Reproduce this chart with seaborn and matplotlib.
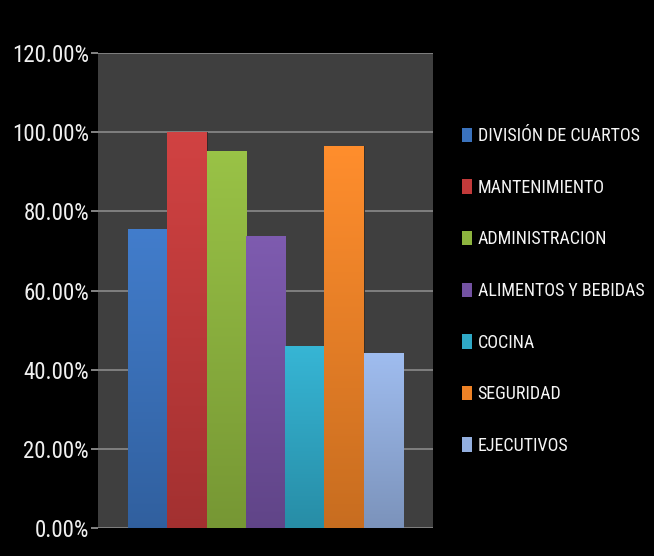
import matplotlib
matplotlib.use("Agg")
import matplotlib.pyplot as plt
import seaborn as sns
import pandas as pd
import numpy as np
from matplotlib.ticker import FuncFormatter, MultipleLocator
from matplotlib.patches import Patch
from matplotlib import font_manager

categories = ["DIVISIÓN DE CUARTOS", "MANTENIMIENTO", "ADMINISTRACION",
              "ALIMENTOS Y BEBIDAS", "COCINA", "SEGURIDAD", "EJECUTIVOS"]
values = [75.5, 100.0, 95.2, 73.7, 46.0, 96.5, 44.3]
colors = ["#3a72bd", "#c23a3a", "#8db43e", "#7352a2", "#2fa8c6", "#ee8226", "#93afdf"]

df = pd.DataFrame({"cat": categories, "val": values})

names = {f.name for f in font_manager.fontManager.ttflist}
stretch = "normal"
fam = "DejaVu Sans"
for cand in ["Liberation Sans Narrow", "Roboto Condensed", "Open Sans Condensed"]:
    if cand in names:
        fam = cand
        break
else:
    condensed = [f for f in font_manager.fontManager.ttflist
                 if "Condensed" in f.fname and "DejaVuSans" in f.fname]
    if condensed:
        stretch = "condensed"

sns.set_theme(style="dark")
plt.rcParams["font.family"] = [fam, "DejaVu Sans"]
plt.rcParams["font.stretch"] = stretch

fig = plt.figure(figsize=(6.54, 5.56), dpi=100, facecolor="black")
ax = fig.add_axes([98/654, 1-528/556, (433-98)/654, (528-53)/556])
ax.set_facecolor("#3f3f3f")

sns.barplot(data=df, x="cat", y="val", hue="cat", palette=colors, width=1.0,
            dodge=False, legend=False, ax=ax, saturation=1.0, edgecolor="#262626", linewidth=0.6)

# vertical gradient shading on each bar (lighter top, darker bottom)
for patch in list(ax.patches):
    bb = patch.get_bbox()
    base = np.array(patch.get_facecolor()[:3])
    top = np.clip(base * 1.05 + 0.02, 0, 1)
    bot = base * 0.84
    t = np.linspace(0, 1, 64)[:, None]
    grad = (top * (1 - t) + bot * t).reshape(64, 1, 3)
    im = ax.imshow(grad, extent=(bb.x0, bb.x1, bb.y0, bb.y1), origin="upper",
                   aspect="auto", zorder=patch.get_zorder() + 0.1, interpolation="bilinear")
    im.set_clip_path(patch)

ax.set_ylim(0, 120)
ax.set_xlim(-1.26, 7.26)
ax.yaxis.set_major_locator(MultipleLocator(20))
ax.yaxis.set_major_formatter(FuncFormatter(lambda v, p: f"{v:.2f}%"))
ax.grid(axis="y", color="#8a8a8a", linewidth=1.2)
ax.grid(axis="x", visible=False)
ax.set_axisbelow(True)
ax.set_xticks([])
ax.set_xlabel("")
ax.set_ylabel("")
for s in ax.spines.values():
    s.set_visible(False)
ax.tick_params(axis="y", colors="#9a9a9a", labelcolor="#f0f0f0", labelsize=16.5,
               length=5, width=1.2, left=True, direction="out", pad=1.5)
for t in ax.get_yticklabels():
    t.set_fontstretch(stretch)

handles = [Patch(facecolor=c, edgecolor="none") for c in colors]
leg = fig.legend(handles, categories, loc="upper left", bbox_to_anchor=(446/654, 1-111/556),
                 frameon=False, fontsize=13, labelcolor="#f5f5f5",
                 handlelength=0.55, handleheight=0.85, handletextpad=0.3, labelspacing=1.86)
for t in leg.get_texts():
    t.set_fontstretch(stretch)

fig.savefig("out.png", dpi=100, facecolor="black")
